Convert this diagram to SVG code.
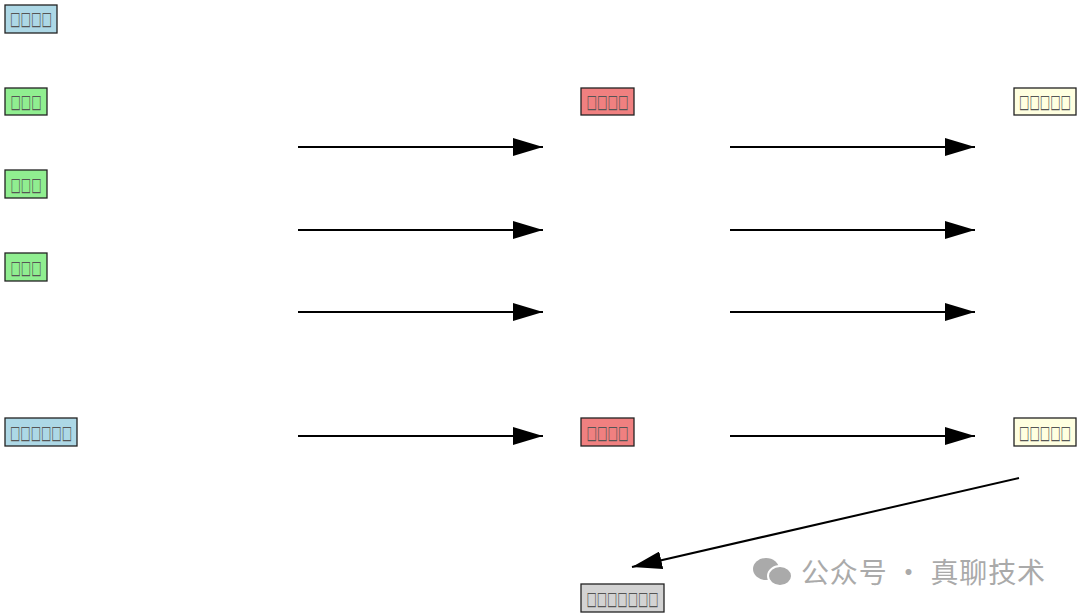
<svg xmlns="http://www.w3.org/2000/svg" width="1080" height="616" viewBox="0 0 1080 616">
<style>
rect{stroke:#222;stroke-width:1.3}
.t{font-family:"DejaVu Sans",sans-serif;font-size:19px;fill:#555;text-anchor:middle;lengthAdjust:spacingAndGlyphs}
.c{stroke:#000;stroke-width:2;fill:none;marker-end:url(#a)}
.b{fill:#add8e6}.g{fill:#90ee90}.r{fill:#f08080}.y{fill:#ffffe0}.k{fill:#d3d3d3}
</style>
<defs><marker id="a" markerUnits="userSpaceOnUse" markerWidth="30" markerHeight="18" refX="30" refY="9" orient="auto"><path d="M0,0L30,9L0,18Z" fill="#000"/></marker></defs>
<rect width="1080" height="616" fill="#fff" style="stroke:none"/>
<g id="n1"><rect class="b" x="5" y="5" width="52" height="28"/><text class="t" x="31" y="25" textLength="42" lengthAdjust="spacingAndGlyphs">□□□□</text></g>
<g id="n2"><rect class="g" x="5" y="88" width="42" height="27"/><text class="t" x="26" y="108" textLength="31" lengthAdjust="spacingAndGlyphs">□□□</text></g>
<g id="n3"><rect class="g" x="5" y="170" width="42" height="28"/><text class="t" x="26" y="191" textLength="31" lengthAdjust="spacingAndGlyphs">□□□</text></g>
<g id="n4"><rect class="g" x="5" y="253" width="42" height="28"/><text class="t" x="26" y="274" textLength="31" lengthAdjust="spacingAndGlyphs">□□□</text></g>
<g id="n5"><rect class="b" x="5" y="418" width="72" height="28"/><text class="t" x="41" y="439" textLength="62" lengthAdjust="spacingAndGlyphs">□□□□□□</text></g>
<g id="n6"><rect class="r" x="581" y="88" width="53" height="27"/><text class="t" x="607.5" y="108" textLength="42" lengthAdjust="spacingAndGlyphs">□□□□</text></g>
<g id="n7"><rect class="r" x="581" y="418" width="53" height="28"/><text class="t" x="607.5" y="439" textLength="42" lengthAdjust="spacingAndGlyphs">□□□□</text></g>
<g id="n8"><rect class="y" x="1014" y="88" width="62" height="27"/><text class="t" x="1045" y="108" textLength="52" lengthAdjust="spacingAndGlyphs">□□□□□</text></g>
<g id="n9"><rect class="y" x="1014" y="418" width="62" height="28"/><text class="t" x="1045" y="439" textLength="52" lengthAdjust="spacingAndGlyphs">□□□□□</text></g>
<g id="n10"><rect class="k" x="581" y="584" width="83" height="28"/><text class="t" x="622.5" y="605" textLength="72" lengthAdjust="spacingAndGlyphs">□□□□□□□</text></g>
<g id="connectors">
<path class="c" d="M298,147H543"/><path class="c" d="M298,230H543"/><path class="c" d="M298,312H543"/><path class="c" d="M298,436H543"/>
<path class="c" d="M730,147H975"/><path class="c" d="M730,230H975"/><path class="c" d="M730,312H975"/><path class="c" d="M730,436H975"/>
<path class="c" d="M1019,478L632,567"/>
</g>
<g id="watermark" fill="#aaa"><ellipse cx="766" cy="569" rx="13" ry="11"/><ellipse cx="780" cy="576" rx="12" ry="10" stroke="#fff" stroke-width="2"/>
<text x="801" y="583" font-family="'Noto Sans CJK SC',sans-serif" font-size="28" textLength="244">公众号 · 真聊技术</text></g>
</svg>
